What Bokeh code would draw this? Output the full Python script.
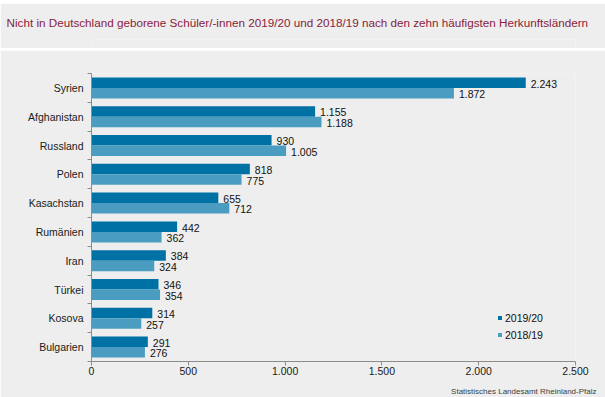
from bokeh.plotting import figure
from bokeh.layouts import column
from bokeh.models import (ColumnDataSource, Range1d, FixedTicker, Legend, LegendItem, Title)
from bokeh.embed import file_html
from bokeh.resources import INLINE
from bokeh.core.properties import value

# ---- data ----
countries = ["Syrien", "Afghanistan", "Russland", "Polen", "Kasachstan",
             "Rumänien", "Iran", "Türkei", "Kosova", "Bulgarien"]
values_2019 = [2243, 1155, 930, 818, 655, 442, 384, 346, 314, 291]
values_2018 = [1872, 1188, 1005, 775, 712, 362, 324, 354, 257, 276]
series_names = ["2019/20", "2018/19"]
x_ticks = [0, 500, 1000, 1500, 2000, 2500]
x_tick_labels = ["0", "500", "1.000", "1.500", "2.000", "2.500"]
title_text = ("Nicht in Deutschland geborene Schüler/-innen 2019/20 und 2018/19 "
              "nach den zehn häufigsten Herkunftsländern")
source_text = "Statistisches Landesamt Rheinland-Pfalz"

# ---- style ----
BG = "#EDEEED"
MAROON = "#8A1C3E"
DARK = "#0071A4"
LIGHT = "#4A9DC1"
AXIS = "#8C8C8C"
FONT = "Liberation Sans"

W = 605
H_RULE, H_TITLE, H_SEP = 3, 45, 2
H = 397 - H_RULE - H_TITLE - H_SEP      # main figure height (347)
TOP = H_RULE + H_TITLE + H_SEP          # 50
FL, FR, FT, FB = 91, 575, 73 - TOP, 362 - TOP


def strip(height, color):
    f = figure(width=W, height=height, output_backend="svg", toolbar_location=None,
               x_range=Range1d(0, 1), y_range=Range1d(0, 1),
               x_axis_type=None, y_axis_type=None, min_border=0)
    f.background_fill_color = color
    f.border_fill_color = color
    f.outline_line_color = None
    return f


rule = strip(H_RULE, MAROON)
sep = strip(H_SEP, "white")

# ---- title band ----
tfig = figure(width=W, height=H_TITLE, output_backend="svg", toolbar_location=None,
              x_range=Range1d(0, 1), y_range=Range1d(0, 1),
              x_axis_type=None, y_axis_type=None,
              min_border_left=FL, min_border_right=W - FR,
              min_border_top=0, min_border_bottom=0)
tfig.background_fill_color = BG
tfig.border_fill_color = BG
tfig.outline_line_color = None
tfig.title.text = title_text
tfig.title.align = "left"
tfig.title.offset = 7 - FL - 1
tfig.title.standoff = 21
tfig.title.text_font = FONT
tfig.title.text_font_size = "11.7px"
tfig.title.text_font_style = "normal"
tfig.title.text_color = MAROON

# ---- main chart ----
n = len(countries)
centers = [n - i - 0.5 for i in range(n)]
bar_h = 0.365


def fmt(v):
    return f"{v:,}".replace(",", ".")


src_a = ColumnDataSource(dict(y=[c + bar_h / 2 for c in centers], v=values_2019,
                              lab=[fmt(v) for v in values_2019]))
src_b = ColumnDataSource(dict(y=[c - bar_h / 2 for c in centers], v=values_2018,
                              lab=[fmt(v) for v in values_2018]))

p = figure(width=W, height=H, output_backend="svg", toolbar_location=None,
           x_range=Range1d(x_ticks[0], x_ticks[-1]), y_range=Range1d(0, n),
           min_border_left=FL, min_border_right=W - FR,
           min_border_top=FT, min_border_bottom=H - FB)
p.background_fill_color = BG
p.border_fill_color = BG
p.outline_line_color = None
p.xgrid.visible = False
p.ygrid.visible = False

r1 = p.hbar(y="y", left=0, right="v", height=bar_h, source=src_a,
            fill_color=DARK, line_color=None)
r2 = p.hbar(y="y", left=0, right="v", height=bar_h, source=src_b,
            fill_color=LIGHT, line_color=None)

for s in (src_a, src_b):
    p.text(x="v", y="y", text="lab", source=s, x_offset=5, y_offset=1,
           text_baseline="middle", text_align="left",
           text_font=value(FONT), text_font_size="10.5px", text_color="#111111")

# y axis
ya = p.yaxis[0]
ya.ticker = FixedTicker(ticks=centers, minor_ticks=list(range(n + 1)))
ya.major_label_overrides = {c: name for c, name in zip(centers, countries)}
ya.major_tick_out = 0
ya.major_tick_in = 0
ya.minor_tick_out = 4
ya.minor_tick_in = 0
ya.minor_tick_line_color = AXIS
ya.axis_line_color = AXIS
ya.major_label_standoff = 4
ya.major_label_text_font = FONT
ya.major_label_text_font_size = "10.5px"
ya.major_label_text_color = "#1A1A1A"

# x axis
xa = p.xaxis[0]
xa.ticker = FixedTicker(ticks=x_ticks, minor_ticks=[])
xa.major_label_overrides = {t: l for t, l in zip(x_ticks, x_tick_labels)}
xa.major_tick_out = 4
xa.major_tick_in = 0
xa.major_tick_line_color = AXIS
xa.axis_line_color = AXIS
xa.major_label_standoff = 1
xa.major_label_text_font = FONT
xa.major_label_text_font_size = "10.5px"
xa.major_label_text_color = "#1A1A1A"

# legend
legend = Legend(items=[LegendItem(label=series_names[0], renderers=[r1]),
                       LegendItem(label=series_names[1], renderers=[r2])],
                location=(406, 18), orientation="vertical",
                background_fill_alpha=0, border_line_color=None,
                glyph_width=5, glyph_height=5, label_height=17, spacing=0,
                padding=0, margin=0, label_standoff=3,
                label_text_font=FONT, label_text_font_size="10.5px",
                label_text_color="#111111")
p.add_layout(legend)

# spacer below the axis, then the source note
p.add_layout(Title(text=" ", text_font_size="1px", standoff=6), "below")
p.add_layout(Title(text=source_text, align="right", offset=-21, standoff=0,
                   vertical_align="top",
                   text_font=FONT, text_font_size="8px", text_font_style="normal",
                   text_color="#404040"), "below")

layout = column(rule, tfig, sep, p, spacing=0)
open("out.html", "w").write(file_html(layout, INLINE))
